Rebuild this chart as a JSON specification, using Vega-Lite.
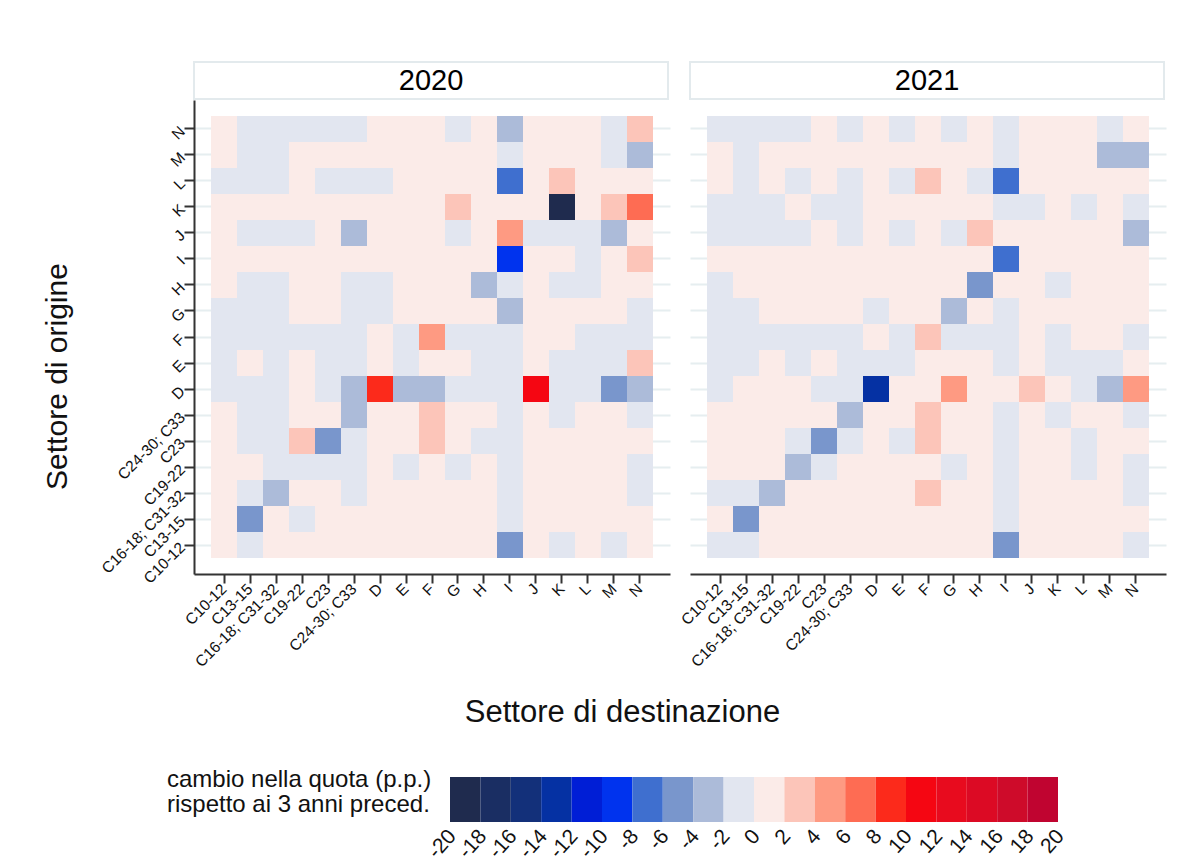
{
"$schema": "https://vega.github.io/schema/vega-lite/v6.json",
"background": "white",
"padding": {"left": 42, "top": 61, "right": 5, "bottom": 0},
"autosize": {"type": "pad"},
"datasets": {"cells": [
{"anno":"2020","orig":"N","dest":"C10-12","v":0.8},{"anno":"2020","orig":"N","dest":"C13-15","v":-0.8},{"anno":"2020","orig":"N","dest":"C16-18; C31-32","v":-0.8},{"anno":"2020","orig":"N","dest":"C19-22","v":-0.8},{"anno":"2020","orig":"N","dest":"C23","v":-0.8},{"anno":"2020","orig":"N","dest":"C24-30; C33","v":-0.8},{"anno":"2020","orig":"N","dest":"D","v":0.8},{"anno":"2020","orig":"N","dest":"E","v":0.8},{"anno":"2020","orig":"N","dest":"F","v":0.8},{"anno":"2020","orig":"N","dest":"G","v":-0.8},{"anno":"2020","orig":"N","dest":"H","v":0.8},{"anno":"2020","orig":"N","dest":"I","v":-3},{"anno":"2020","orig":"N","dest":"J","v":0.8},{"anno":"2020","orig":"N","dest":"K","v":0.8},{"anno":"2020","orig":"N","dest":"L","v":0.8},{"anno":"2020","orig":"N","dest":"M","v":-0.8},{"anno":"2020","orig":"N","dest":"N","v":3},
{"anno":"2020","orig":"M","dest":"C10-12","v":0.8},{"anno":"2020","orig":"M","dest":"C13-15","v":-0.8},{"anno":"2020","orig":"M","dest":"C16-18; C31-32","v":-0.8},{"anno":"2020","orig":"M","dest":"C19-22","v":0.8},{"anno":"2020","orig":"M","dest":"C23","v":0.8},{"anno":"2020","orig":"M","dest":"C24-30; C33","v":0.8},{"anno":"2020","orig":"M","dest":"D","v":0.8},{"anno":"2020","orig":"M","dest":"E","v":0.8},{"anno":"2020","orig":"M","dest":"F","v":0.8},{"anno":"2020","orig":"M","dest":"G","v":0.8},{"anno":"2020","orig":"M","dest":"H","v":0.8},{"anno":"2020","orig":"M","dest":"I","v":-0.8},{"anno":"2020","orig":"M","dest":"J","v":0.8},{"anno":"2020","orig":"M","dest":"K","v":0.8},{"anno":"2020","orig":"M","dest":"L","v":0.8},{"anno":"2020","orig":"M","dest":"M","v":-0.8},{"anno":"2020","orig":"M","dest":"N","v":-3},
{"anno":"2020","orig":"L","dest":"C10-12","v":-0.8},{"anno":"2020","orig":"L","dest":"C13-15","v":-0.8},{"anno":"2020","orig":"L","dest":"C16-18; C31-32","v":-0.8},{"anno":"2020","orig":"L","dest":"C19-22","v":0.8},{"anno":"2020","orig":"L","dest":"C23","v":-0.8},{"anno":"2020","orig":"L","dest":"C24-30; C33","v":-0.8},{"anno":"2020","orig":"L","dest":"D","v":-0.8},{"anno":"2020","orig":"L","dest":"E","v":0.8},{"anno":"2020","orig":"L","dest":"F","v":0.8},{"anno":"2020","orig":"L","dest":"G","v":0.8},{"anno":"2020","orig":"L","dest":"H","v":0.8},{"anno":"2020","orig":"L","dest":"I","v":-7},{"anno":"2020","orig":"L","dest":"J","v":0.8},{"anno":"2020","orig":"L","dest":"K","v":3},{"anno":"2020","orig":"L","dest":"L","v":0.8},{"anno":"2020","orig":"L","dest":"M","v":0.8},{"anno":"2020","orig":"L","dest":"N","v":0.8},
{"anno":"2020","orig":"K","dest":"C10-12","v":0.8},{"anno":"2020","orig":"K","dest":"C13-15","v":0.8},{"anno":"2020","orig":"K","dest":"C16-18; C31-32","v":0.8},{"anno":"2020","orig":"K","dest":"C19-22","v":0.8},{"anno":"2020","orig":"K","dest":"C23","v":0.8},{"anno":"2020","orig":"K","dest":"C24-30; C33","v":0.8},{"anno":"2020","orig":"K","dest":"D","v":0.8},{"anno":"2020","orig":"K","dest":"E","v":0.8},{"anno":"2020","orig":"K","dest":"F","v":0.8},{"anno":"2020","orig":"K","dest":"G","v":3},{"anno":"2020","orig":"K","dest":"H","v":0.8},{"anno":"2020","orig":"K","dest":"I","v":0.8},{"anno":"2020","orig":"K","dest":"J","v":0.8},{"anno":"2020","orig":"K","dest":"K","v":-19},{"anno":"2020","orig":"K","dest":"L","v":0.8},{"anno":"2020","orig":"K","dest":"M","v":3},{"anno":"2020","orig":"K","dest":"N","v":7},
{"anno":"2020","orig":"J","dest":"C10-12","v":0.8},{"anno":"2020","orig":"J","dest":"C13-15","v":-0.8},{"anno":"2020","orig":"J","dest":"C16-18; C31-32","v":-0.8},{"anno":"2020","orig":"J","dest":"C19-22","v":-0.8},{"anno":"2020","orig":"J","dest":"C23","v":0.8},{"anno":"2020","orig":"J","dest":"C24-30; C33","v":-3},{"anno":"2020","orig":"J","dest":"D","v":0.8},{"anno":"2020","orig":"J","dest":"E","v":0.8},{"anno":"2020","orig":"J","dest":"F","v":0.8},{"anno":"2020","orig":"J","dest":"G","v":-0.8},{"anno":"2020","orig":"J","dest":"H","v":0.8},{"anno":"2020","orig":"J","dest":"I","v":5},{"anno":"2020","orig":"J","dest":"J","v":-0.8},{"anno":"2020","orig":"J","dest":"K","v":-0.8},{"anno":"2020","orig":"J","dest":"L","v":-0.8},{"anno":"2020","orig":"J","dest":"M","v":-3},{"anno":"2020","orig":"J","dest":"N","v":0.8},
{"anno":"2020","orig":"I","dest":"C10-12","v":0.8},{"anno":"2020","orig":"I","dest":"C13-15","v":0.8},{"anno":"2020","orig":"I","dest":"C16-18; C31-32","v":0.8},{"anno":"2020","orig":"I","dest":"C19-22","v":0.8},{"anno":"2020","orig":"I","dest":"C23","v":0.8},{"anno":"2020","orig":"I","dest":"C24-30; C33","v":0.8},{"anno":"2020","orig":"I","dest":"D","v":0.8},{"anno":"2020","orig":"I","dest":"E","v":0.8},{"anno":"2020","orig":"I","dest":"F","v":0.8},{"anno":"2020","orig":"I","dest":"G","v":0.8},{"anno":"2020","orig":"I","dest":"H","v":0.8},{"anno":"2020","orig":"I","dest":"I","v":-9},{"anno":"2020","orig":"I","dest":"J","v":0.8},{"anno":"2020","orig":"I","dest":"K","v":0.8},{"anno":"2020","orig":"I","dest":"L","v":-0.8},{"anno":"2020","orig":"I","dest":"M","v":0.8},{"anno":"2020","orig":"I","dest":"N","v":3},
{"anno":"2020","orig":"H","dest":"C10-12","v":0.8},{"anno":"2020","orig":"H","dest":"C13-15","v":-0.8},{"anno":"2020","orig":"H","dest":"C16-18; C31-32","v":-0.8},{"anno":"2020","orig":"H","dest":"C19-22","v":0.8},{"anno":"2020","orig":"H","dest":"C23","v":0.8},{"anno":"2020","orig":"H","dest":"C24-30; C33","v":-0.8},{"anno":"2020","orig":"H","dest":"D","v":-0.8},{"anno":"2020","orig":"H","dest":"E","v":0.8},{"anno":"2020","orig":"H","dest":"F","v":0.8},{"anno":"2020","orig":"H","dest":"G","v":0.8},{"anno":"2020","orig":"H","dest":"H","v":-3},{"anno":"2020","orig":"H","dest":"I","v":-0.8},{"anno":"2020","orig":"H","dest":"J","v":0.8},{"anno":"2020","orig":"H","dest":"K","v":-0.8},{"anno":"2020","orig":"H","dest":"L","v":-0.8},{"anno":"2020","orig":"H","dest":"M","v":0.8},{"anno":"2020","orig":"H","dest":"N","v":0.8},
{"anno":"2020","orig":"G","dest":"C10-12","v":-0.8},{"anno":"2020","orig":"G","dest":"C13-15","v":-0.8},{"anno":"2020","orig":"G","dest":"C16-18; C31-32","v":-0.8},{"anno":"2020","orig":"G","dest":"C19-22","v":0.8},{"anno":"2020","orig":"G","dest":"C23","v":0.8},{"anno":"2020","orig":"G","dest":"C24-30; C33","v":-0.8},{"anno":"2020","orig":"G","dest":"D","v":-0.8},{"anno":"2020","orig":"G","dest":"E","v":0.8},{"anno":"2020","orig":"G","dest":"F","v":0.8},{"anno":"2020","orig":"G","dest":"G","v":0.8},{"anno":"2020","orig":"G","dest":"H","v":0.8},{"anno":"2020","orig":"G","dest":"I","v":-3},{"anno":"2020","orig":"G","dest":"J","v":0.8},{"anno":"2020","orig":"G","dest":"K","v":0.8},{"anno":"2020","orig":"G","dest":"L","v":0.8},{"anno":"2020","orig":"G","dest":"M","v":0.8},{"anno":"2020","orig":"G","dest":"N","v":-0.8},
{"anno":"2020","orig":"F","dest":"C10-12","v":-0.8},{"anno":"2020","orig":"F","dest":"C13-15","v":-0.8},{"anno":"2020","orig":"F","dest":"C16-18; C31-32","v":-0.8},{"anno":"2020","orig":"F","dest":"C19-22","v":-0.8},{"anno":"2020","orig":"F","dest":"C23","v":-0.8},{"anno":"2020","orig":"F","dest":"C24-30; C33","v":-0.8},{"anno":"2020","orig":"F","dest":"D","v":0.8},{"anno":"2020","orig":"F","dest":"E","v":-0.8},{"anno":"2020","orig":"F","dest":"F","v":5},{"anno":"2020","orig":"F","dest":"G","v":-0.8},{"anno":"2020","orig":"F","dest":"H","v":-0.8},{"anno":"2020","orig":"F","dest":"I","v":-0.8},{"anno":"2020","orig":"F","dest":"J","v":0.8},{"anno":"2020","orig":"F","dest":"K","v":0.8},{"anno":"2020","orig":"F","dest":"L","v":-0.8},{"anno":"2020","orig":"F","dest":"M","v":-0.8},{"anno":"2020","orig":"F","dest":"N","v":-0.8},
{"anno":"2020","orig":"E","dest":"C10-12","v":-0.8},{"anno":"2020","orig":"E","dest":"C13-15","v":0.8},{"anno":"2020","orig":"E","dest":"C16-18; C31-32","v":-0.8},{"anno":"2020","orig":"E","dest":"C19-22","v":0.8},{"anno":"2020","orig":"E","dest":"C23","v":-0.8},{"anno":"2020","orig":"E","dest":"C24-30; C33","v":-0.8},{"anno":"2020","orig":"E","dest":"D","v":0.8},{"anno":"2020","orig":"E","dest":"E","v":-0.8},{"anno":"2020","orig":"E","dest":"F","v":0.8},{"anno":"2020","orig":"E","dest":"G","v":0.8},{"anno":"2020","orig":"E","dest":"H","v":-0.8},{"anno":"2020","orig":"E","dest":"I","v":-0.8},{"anno":"2020","orig":"E","dest":"J","v":0.8},{"anno":"2020","orig":"E","dest":"K","v":-0.8},{"anno":"2020","orig":"E","dest":"L","v":-0.8},{"anno":"2020","orig":"E","dest":"M","v":-0.8},{"anno":"2020","orig":"E","dest":"N","v":3},
{"anno":"2020","orig":"D","dest":"C10-12","v":-0.8},{"anno":"2020","orig":"D","dest":"C13-15","v":-0.8},{"anno":"2020","orig":"D","dest":"C16-18; C31-32","v":-0.8},{"anno":"2020","orig":"D","dest":"C19-22","v":0.8},{"anno":"2020","orig":"D","dest":"C23","v":-0.8},{"anno":"2020","orig":"D","dest":"C24-30; C33","v":-3},{"anno":"2020","orig":"D","dest":"D","v":9},{"anno":"2020","orig":"D","dest":"E","v":-3},{"anno":"2020","orig":"D","dest":"F","v":-3},{"anno":"2020","orig":"D","dest":"G","v":-0.8},{"anno":"2020","orig":"D","dest":"H","v":-0.8},{"anno":"2020","orig":"D","dest":"I","v":-0.8},{"anno":"2020","orig":"D","dest":"J","v":11},{"anno":"2020","orig":"D","dest":"K","v":-0.8},{"anno":"2020","orig":"D","dest":"L","v":-0.8},{"anno":"2020","orig":"D","dest":"M","v":-5},{"anno":"2020","orig":"D","dest":"N","v":-3},
{"anno":"2020","orig":"C24-30; C33","dest":"C10-12","v":0.8},{"anno":"2020","orig":"C24-30; C33","dest":"C13-15","v":-0.8},{"anno":"2020","orig":"C24-30; C33","dest":"C16-18; C31-32","v":-0.8},{"anno":"2020","orig":"C24-30; C33","dest":"C19-22","v":0.8},{"anno":"2020","orig":"C24-30; C33","dest":"C23","v":0.8},{"anno":"2020","orig":"C24-30; C33","dest":"C24-30; C33","v":-3},{"anno":"2020","orig":"C24-30; C33","dest":"D","v":0.8},{"anno":"2020","orig":"C24-30; C33","dest":"E","v":0.8},{"anno":"2020","orig":"C24-30; C33","dest":"F","v":3},{"anno":"2020","orig":"C24-30; C33","dest":"G","v":0.8},{"anno":"2020","orig":"C24-30; C33","dest":"H","v":0.8},{"anno":"2020","orig":"C24-30; C33","dest":"I","v":-0.8},{"anno":"2020","orig":"C24-30; C33","dest":"J","v":0.8},{"anno":"2020","orig":"C24-30; C33","dest":"K","v":-0.8},{"anno":"2020","orig":"C24-30; C33","dest":"L","v":0.8},{"anno":"2020","orig":"C24-30; C33","dest":"M","v":0.8},{"anno":"2020","orig":"C24-30; C33","dest":"N","v":-0.8},
{"anno":"2020","orig":"C23","dest":"C10-12","v":0.8},{"anno":"2020","orig":"C23","dest":"C13-15","v":-0.8},{"anno":"2020","orig":"C23","dest":"C16-18; C31-32","v":-0.8},{"anno":"2020","orig":"C23","dest":"C19-22","v":3},{"anno":"2020","orig":"C23","dest":"C23","v":-5},{"anno":"2020","orig":"C23","dest":"C24-30; C33","v":-0.8},{"anno":"2020","orig":"C23","dest":"D","v":0.8},{"anno":"2020","orig":"C23","dest":"E","v":0.8},{"anno":"2020","orig":"C23","dest":"F","v":3},{"anno":"2020","orig":"C23","dest":"G","v":0.8},{"anno":"2020","orig":"C23","dest":"H","v":-0.8},{"anno":"2020","orig":"C23","dest":"I","v":-0.8},{"anno":"2020","orig":"C23","dest":"J","v":0.8},{"anno":"2020","orig":"C23","dest":"K","v":0.8},{"anno":"2020","orig":"C23","dest":"L","v":0.8},{"anno":"2020","orig":"C23","dest":"M","v":0.8},{"anno":"2020","orig":"C23","dest":"N","v":0.8},
{"anno":"2020","orig":"C19-22","dest":"C10-12","v":0.8},{"anno":"2020","orig":"C19-22","dest":"C13-15","v":0.8},{"anno":"2020","orig":"C19-22","dest":"C16-18; C31-32","v":-0.8},{"anno":"2020","orig":"C19-22","dest":"C19-22","v":-0.8},{"anno":"2020","orig":"C19-22","dest":"C23","v":-0.8},{"anno":"2020","orig":"C19-22","dest":"C24-30; C33","v":-0.8},{"anno":"2020","orig":"C19-22","dest":"D","v":0.8},{"anno":"2020","orig":"C19-22","dest":"E","v":-0.8},{"anno":"2020","orig":"C19-22","dest":"F","v":0.8},{"anno":"2020","orig":"C19-22","dest":"G","v":-0.8},{"anno":"2020","orig":"C19-22","dest":"H","v":0.8},{"anno":"2020","orig":"C19-22","dest":"I","v":-0.8},{"anno":"2020","orig":"C19-22","dest":"J","v":0.8},{"anno":"2020","orig":"C19-22","dest":"K","v":0.8},{"anno":"2020","orig":"C19-22","dest":"L","v":0.8},{"anno":"2020","orig":"C19-22","dest":"M","v":0.8},{"anno":"2020","orig":"C19-22","dest":"N","v":-0.8},
{"anno":"2020","orig":"C16-18; C31-32","dest":"C10-12","v":0.8},{"anno":"2020","orig":"C16-18; C31-32","dest":"C13-15","v":-0.8},{"anno":"2020","orig":"C16-18; C31-32","dest":"C16-18; C31-32","v":-3},{"anno":"2020","orig":"C16-18; C31-32","dest":"C19-22","v":0.8},{"anno":"2020","orig":"C16-18; C31-32","dest":"C23","v":0.8},{"anno":"2020","orig":"C16-18; C31-32","dest":"C24-30; C33","v":-0.8},{"anno":"2020","orig":"C16-18; C31-32","dest":"D","v":0.8},{"anno":"2020","orig":"C16-18; C31-32","dest":"E","v":0.8},{"anno":"2020","orig":"C16-18; C31-32","dest":"F","v":0.8},{"anno":"2020","orig":"C16-18; C31-32","dest":"G","v":0.8},{"anno":"2020","orig":"C16-18; C31-32","dest":"H","v":0.8},{"anno":"2020","orig":"C16-18; C31-32","dest":"I","v":-0.8},{"anno":"2020","orig":"C16-18; C31-32","dest":"J","v":0.8},{"anno":"2020","orig":"C16-18; C31-32","dest":"K","v":0.8},{"anno":"2020","orig":"C16-18; C31-32","dest":"L","v":0.8},{"anno":"2020","orig":"C16-18; C31-32","dest":"M","v":0.8},{"anno":"2020","orig":"C16-18; C31-32","dest":"N","v":-0.8},
{"anno":"2020","orig":"C13-15","dest":"C10-12","v":0.8},{"anno":"2020","orig":"C13-15","dest":"C13-15","v":-5},{"anno":"2020","orig":"C13-15","dest":"C16-18; C31-32","v":0.8},{"anno":"2020","orig":"C13-15","dest":"C19-22","v":-0.8},{"anno":"2020","orig":"C13-15","dest":"C23","v":0.8},{"anno":"2020","orig":"C13-15","dest":"C24-30; C33","v":0.8},{"anno":"2020","orig":"C13-15","dest":"D","v":0.8},{"anno":"2020","orig":"C13-15","dest":"E","v":0.8},{"anno":"2020","orig":"C13-15","dest":"F","v":0.8},{"anno":"2020","orig":"C13-15","dest":"G","v":0.8},{"anno":"2020","orig":"C13-15","dest":"H","v":0.8},{"anno":"2020","orig":"C13-15","dest":"I","v":-0.8},{"anno":"2020","orig":"C13-15","dest":"J","v":0.8},{"anno":"2020","orig":"C13-15","dest":"K","v":0.8},{"anno":"2020","orig":"C13-15","dest":"L","v":0.8},{"anno":"2020","orig":"C13-15","dest":"M","v":0.8},{"anno":"2020","orig":"C13-15","dest":"N","v":0.8},
{"anno":"2020","orig":"C10-12","dest":"C10-12","v":0.8},{"anno":"2020","orig":"C10-12","dest":"C13-15","v":-0.8},{"anno":"2020","orig":"C10-12","dest":"C16-18; C31-32","v":0.8},{"anno":"2020","orig":"C10-12","dest":"C19-22","v":0.8},{"anno":"2020","orig":"C10-12","dest":"C23","v":0.8},{"anno":"2020","orig":"C10-12","dest":"C24-30; C33","v":0.8},{"anno":"2020","orig":"C10-12","dest":"D","v":0.8},{"anno":"2020","orig":"C10-12","dest":"E","v":0.8},{"anno":"2020","orig":"C10-12","dest":"F","v":0.8},{"anno":"2020","orig":"C10-12","dest":"G","v":0.8},{"anno":"2020","orig":"C10-12","dest":"H","v":0.8},{"anno":"2020","orig":"C10-12","dest":"I","v":-5},{"anno":"2020","orig":"C10-12","dest":"J","v":0.8},{"anno":"2020","orig":"C10-12","dest":"K","v":-0.8},{"anno":"2020","orig":"C10-12","dest":"L","v":0.8},{"anno":"2020","orig":"C10-12","dest":"M","v":-0.8},{"anno":"2020","orig":"C10-12","dest":"N","v":0.8},
{"anno":"2021","orig":"N","dest":"C10-12","v":-0.8},{"anno":"2021","orig":"N","dest":"C13-15","v":-0.8},{"anno":"2021","orig":"N","dest":"C16-18; C31-32","v":-0.8},{"anno":"2021","orig":"N","dest":"C19-22","v":-0.8},{"anno":"2021","orig":"N","dest":"C23","v":0.8},{"anno":"2021","orig":"N","dest":"C24-30; C33","v":-0.8},{"anno":"2021","orig":"N","dest":"D","v":0.8},{"anno":"2021","orig":"N","dest":"E","v":-0.8},{"anno":"2021","orig":"N","dest":"F","v":0.8},{"anno":"2021","orig":"N","dest":"G","v":-0.8},{"anno":"2021","orig":"N","dest":"H","v":0.8},{"anno":"2021","orig":"N","dest":"I","v":-0.8},{"anno":"2021","orig":"N","dest":"J","v":0.8},{"anno":"2021","orig":"N","dest":"K","v":0.8},{"anno":"2021","orig":"N","dest":"L","v":0.8},{"anno":"2021","orig":"N","dest":"M","v":-0.8},{"anno":"2021","orig":"N","dest":"N","v":0.8},
{"anno":"2021","orig":"M","dest":"C10-12","v":0.8},{"anno":"2021","orig":"M","dest":"C13-15","v":-0.8},{"anno":"2021","orig":"M","dest":"C16-18; C31-32","v":0.8},{"anno":"2021","orig":"M","dest":"C19-22","v":0.8},{"anno":"2021","orig":"M","dest":"C23","v":0.8},{"anno":"2021","orig":"M","dest":"C24-30; C33","v":0.8},{"anno":"2021","orig":"M","dest":"D","v":0.8},{"anno":"2021","orig":"M","dest":"E","v":0.8},{"anno":"2021","orig":"M","dest":"F","v":0.8},{"anno":"2021","orig":"M","dest":"G","v":0.8},{"anno":"2021","orig":"M","dest":"H","v":0.8},{"anno":"2021","orig":"M","dest":"I","v":-0.8},{"anno":"2021","orig":"M","dest":"J","v":0.8},{"anno":"2021","orig":"M","dest":"K","v":0.8},{"anno":"2021","orig":"M","dest":"L","v":0.8},{"anno":"2021","orig":"M","dest":"M","v":-3},{"anno":"2021","orig":"M","dest":"N","v":-3},
{"anno":"2021","orig":"L","dest":"C10-12","v":0.8},{"anno":"2021","orig":"L","dest":"C13-15","v":-0.8},{"anno":"2021","orig":"L","dest":"C16-18; C31-32","v":0.8},{"anno":"2021","orig":"L","dest":"C19-22","v":-0.8},{"anno":"2021","orig":"L","dest":"C23","v":0.8},{"anno":"2021","orig":"L","dest":"C24-30; C33","v":-0.8},{"anno":"2021","orig":"L","dest":"D","v":0.8},{"anno":"2021","orig":"L","dest":"E","v":-0.8},{"anno":"2021","orig":"L","dest":"F","v":3},{"anno":"2021","orig":"L","dest":"G","v":0.8},{"anno":"2021","orig":"L","dest":"H","v":-0.8},{"anno":"2021","orig":"L","dest":"I","v":-7},{"anno":"2021","orig":"L","dest":"J","v":0.8},{"anno":"2021","orig":"L","dest":"K","v":0.8},{"anno":"2021","orig":"L","dest":"L","v":0.8},{"anno":"2021","orig":"L","dest":"M","v":0.8},{"anno":"2021","orig":"L","dest":"N","v":0.8},
{"anno":"2021","orig":"K","dest":"C10-12","v":-0.8},{"anno":"2021","orig":"K","dest":"C13-15","v":-0.8},{"anno":"2021","orig":"K","dest":"C16-18; C31-32","v":-0.8},{"anno":"2021","orig":"K","dest":"C19-22","v":0.8},{"anno":"2021","orig":"K","dest":"C23","v":-0.8},{"anno":"2021","orig":"K","dest":"C24-30; C33","v":-0.8},{"anno":"2021","orig":"K","dest":"D","v":0.8},{"anno":"2021","orig":"K","dest":"E","v":0.8},{"anno":"2021","orig":"K","dest":"F","v":0.8},{"anno":"2021","orig":"K","dest":"G","v":0.8},{"anno":"2021","orig":"K","dest":"H","v":0.8},{"anno":"2021","orig":"K","dest":"I","v":-0.8},{"anno":"2021","orig":"K","dest":"J","v":-0.8},{"anno":"2021","orig":"K","dest":"K","v":0.8},{"anno":"2021","orig":"K","dest":"L","v":-0.8},{"anno":"2021","orig":"K","dest":"M","v":0.8},{"anno":"2021","orig":"K","dest":"N","v":-0.8},
{"anno":"2021","orig":"J","dest":"C10-12","v":-0.8},{"anno":"2021","orig":"J","dest":"C13-15","v":-0.8},{"anno":"2021","orig":"J","dest":"C16-18; C31-32","v":-0.8},{"anno":"2021","orig":"J","dest":"C19-22","v":-0.8},{"anno":"2021","orig":"J","dest":"C23","v":0.8},{"anno":"2021","orig":"J","dest":"C24-30; C33","v":-0.8},{"anno":"2021","orig":"J","dest":"D","v":0.8},{"anno":"2021","orig":"J","dest":"E","v":-0.8},{"anno":"2021","orig":"J","dest":"F","v":0.8},{"anno":"2021","orig":"J","dest":"G","v":-0.8},{"anno":"2021","orig":"J","dest":"H","v":3},{"anno":"2021","orig":"J","dest":"I","v":0.8},{"anno":"2021","orig":"J","dest":"J","v":0.8},{"anno":"2021","orig":"J","dest":"K","v":0.8},{"anno":"2021","orig":"J","dest":"L","v":0.8},{"anno":"2021","orig":"J","dest":"M","v":0.8},{"anno":"2021","orig":"J","dest":"N","v":-3},
{"anno":"2021","orig":"I","dest":"C10-12","v":0.8},{"anno":"2021","orig":"I","dest":"C13-15","v":0.8},{"anno":"2021","orig":"I","dest":"C16-18; C31-32","v":0.8},{"anno":"2021","orig":"I","dest":"C19-22","v":0.8},{"anno":"2021","orig":"I","dest":"C23","v":0.8},{"anno":"2021","orig":"I","dest":"C24-30; C33","v":0.8},{"anno":"2021","orig":"I","dest":"D","v":0.8},{"anno":"2021","orig":"I","dest":"E","v":0.8},{"anno":"2021","orig":"I","dest":"F","v":0.8},{"anno":"2021","orig":"I","dest":"G","v":0.8},{"anno":"2021","orig":"I","dest":"H","v":0.8},{"anno":"2021","orig":"I","dest":"I","v":-7},{"anno":"2021","orig":"I","dest":"J","v":0.8},{"anno":"2021","orig":"I","dest":"K","v":0.8},{"anno":"2021","orig":"I","dest":"L","v":0.8},{"anno":"2021","orig":"I","dest":"M","v":0.8},{"anno":"2021","orig":"I","dest":"N","v":0.8},
{"anno":"2021","orig":"H","dest":"C10-12","v":-0.8},{"anno":"2021","orig":"H","dest":"C13-15","v":0.8},{"anno":"2021","orig":"H","dest":"C16-18; C31-32","v":0.8},{"anno":"2021","orig":"H","dest":"C19-22","v":0.8},{"anno":"2021","orig":"H","dest":"C23","v":0.8},{"anno":"2021","orig":"H","dest":"C24-30; C33","v":0.8},{"anno":"2021","orig":"H","dest":"D","v":0.8},{"anno":"2021","orig":"H","dest":"E","v":0.8},{"anno":"2021","orig":"H","dest":"F","v":0.8},{"anno":"2021","orig":"H","dest":"G","v":0.8},{"anno":"2021","orig":"H","dest":"H","v":-5},{"anno":"2021","orig":"H","dest":"I","v":0.8},{"anno":"2021","orig":"H","dest":"J","v":0.8},{"anno":"2021","orig":"H","dest":"K","v":-0.8},{"anno":"2021","orig":"H","dest":"L","v":0.8},{"anno":"2021","orig":"H","dest":"M","v":0.8},{"anno":"2021","orig":"H","dest":"N","v":0.8},
{"anno":"2021","orig":"G","dest":"C10-12","v":-0.8},{"anno":"2021","orig":"G","dest":"C13-15","v":-0.8},{"anno":"2021","orig":"G","dest":"C16-18; C31-32","v":0.8},{"anno":"2021","orig":"G","dest":"C19-22","v":0.8},{"anno":"2021","orig":"G","dest":"C23","v":0.8},{"anno":"2021","orig":"G","dest":"C24-30; C33","v":0.8},{"anno":"2021","orig":"G","dest":"D","v":-0.8},{"anno":"2021","orig":"G","dest":"E","v":0.8},{"anno":"2021","orig":"G","dest":"F","v":0.8},{"anno":"2021","orig":"G","dest":"G","v":-3},{"anno":"2021","orig":"G","dest":"H","v":0.8},{"anno":"2021","orig":"G","dest":"I","v":-0.8},{"anno":"2021","orig":"G","dest":"J","v":0.8},{"anno":"2021","orig":"G","dest":"K","v":0.8},{"anno":"2021","orig":"G","dest":"L","v":0.8},{"anno":"2021","orig":"G","dest":"M","v":0.8},{"anno":"2021","orig":"G","dest":"N","v":0.8},
{"anno":"2021","orig":"F","dest":"C10-12","v":-0.8},{"anno":"2021","orig":"F","dest":"C13-15","v":-0.8},{"anno":"2021","orig":"F","dest":"C16-18; C31-32","v":-0.8},{"anno":"2021","orig":"F","dest":"C19-22","v":-0.8},{"anno":"2021","orig":"F","dest":"C23","v":-0.8},{"anno":"2021","orig":"F","dest":"C24-30; C33","v":-0.8},{"anno":"2021","orig":"F","dest":"D","v":0.8},{"anno":"2021","orig":"F","dest":"E","v":-0.8},{"anno":"2021","orig":"F","dest":"F","v":3},{"anno":"2021","orig":"F","dest":"G","v":-0.8},{"anno":"2021","orig":"F","dest":"H","v":-0.8},{"anno":"2021","orig":"F","dest":"I","v":-0.8},{"anno":"2021","orig":"F","dest":"J","v":0.8},{"anno":"2021","orig":"F","dest":"K","v":-0.8},{"anno":"2021","orig":"F","dest":"L","v":0.8},{"anno":"2021","orig":"F","dest":"M","v":0.8},{"anno":"2021","orig":"F","dest":"N","v":-0.8},
{"anno":"2021","orig":"E","dest":"C10-12","v":-0.8},{"anno":"2021","orig":"E","dest":"C13-15","v":-0.8},{"anno":"2021","orig":"E","dest":"C16-18; C31-32","v":0.8},{"anno":"2021","orig":"E","dest":"C19-22","v":-0.8},{"anno":"2021","orig":"E","dest":"C23","v":0.8},{"anno":"2021","orig":"E","dest":"C24-30; C33","v":-0.8},{"anno":"2021","orig":"E","dest":"D","v":-0.8},{"anno":"2021","orig":"E","dest":"E","v":-0.8},{"anno":"2021","orig":"E","dest":"F","v":0.8},{"anno":"2021","orig":"E","dest":"G","v":0.8},{"anno":"2021","orig":"E","dest":"H","v":0.8},{"anno":"2021","orig":"E","dest":"I","v":-0.8},{"anno":"2021","orig":"E","dest":"J","v":0.8},{"anno":"2021","orig":"E","dest":"K","v":-0.8},{"anno":"2021","orig":"E","dest":"L","v":-0.8},{"anno":"2021","orig":"E","dest":"M","v":-0.8},{"anno":"2021","orig":"E","dest":"N","v":0.8},
{"anno":"2021","orig":"D","dest":"C10-12","v":-0.8},{"anno":"2021","orig":"D","dest":"C13-15","v":0.8},{"anno":"2021","orig":"D","dest":"C16-18; C31-32","v":0.8},{"anno":"2021","orig":"D","dest":"C19-22","v":0.8},{"anno":"2021","orig":"D","dest":"C23","v":-0.8},{"anno":"2021","orig":"D","dest":"C24-30; C33","v":-0.8},{"anno":"2021","orig":"D","dest":"D","v":-13},{"anno":"2021","orig":"D","dest":"E","v":0.8},{"anno":"2021","orig":"D","dest":"F","v":0.8},{"anno":"2021","orig":"D","dest":"G","v":5},{"anno":"2021","orig":"D","dest":"H","v":0.8},{"anno":"2021","orig":"D","dest":"I","v":0.8},{"anno":"2021","orig":"D","dest":"J","v":3},{"anno":"2021","orig":"D","dest":"K","v":0.8},{"anno":"2021","orig":"D","dest":"L","v":-0.8},{"anno":"2021","orig":"D","dest":"M","v":-3},{"anno":"2021","orig":"D","dest":"N","v":5},
{"anno":"2021","orig":"C24-30; C33","dest":"C10-12","v":0.8},{"anno":"2021","orig":"C24-30; C33","dest":"C13-15","v":0.8},{"anno":"2021","orig":"C24-30; C33","dest":"C16-18; C31-32","v":0.8},{"anno":"2021","orig":"C24-30; C33","dest":"C19-22","v":0.8},{"anno":"2021","orig":"C24-30; C33","dest":"C23","v":0.8},{"anno":"2021","orig":"C24-30; C33","dest":"C24-30; C33","v":-3},{"anno":"2021","orig":"C24-30; C33","dest":"D","v":0.8},{"anno":"2021","orig":"C24-30; C33","dest":"E","v":0.8},{"anno":"2021","orig":"C24-30; C33","dest":"F","v":3},{"anno":"2021","orig":"C24-30; C33","dest":"G","v":0.8},{"anno":"2021","orig":"C24-30; C33","dest":"H","v":0.8},{"anno":"2021","orig":"C24-30; C33","dest":"I","v":-0.8},{"anno":"2021","orig":"C24-30; C33","dest":"J","v":0.8},{"anno":"2021","orig":"C24-30; C33","dest":"K","v":-0.8},{"anno":"2021","orig":"C24-30; C33","dest":"L","v":0.8},{"anno":"2021","orig":"C24-30; C33","dest":"M","v":0.8},{"anno":"2021","orig":"C24-30; C33","dest":"N","v":-0.8},
{"anno":"2021","orig":"C23","dest":"C10-12","v":0.8},{"anno":"2021","orig":"C23","dest":"C13-15","v":0.8},{"anno":"2021","orig":"C23","dest":"C16-18; C31-32","v":0.8},{"anno":"2021","orig":"C23","dest":"C19-22","v":-0.8},{"anno":"2021","orig":"C23","dest":"C23","v":-5},{"anno":"2021","orig":"C23","dest":"C24-30; C33","v":-0.8},{"anno":"2021","orig":"C23","dest":"D","v":0.8},{"anno":"2021","orig":"C23","dest":"E","v":-0.8},{"anno":"2021","orig":"C23","dest":"F","v":3},{"anno":"2021","orig":"C23","dest":"G","v":0.8},{"anno":"2021","orig":"C23","dest":"H","v":0.8},{"anno":"2021","orig":"C23","dest":"I","v":-0.8},{"anno":"2021","orig":"C23","dest":"J","v":0.8},{"anno":"2021","orig":"C23","dest":"K","v":0.8},{"anno":"2021","orig":"C23","dest":"L","v":-0.8},{"anno":"2021","orig":"C23","dest":"M","v":0.8},{"anno":"2021","orig":"C23","dest":"N","v":0.8},
{"anno":"2021","orig":"C19-22","dest":"C10-12","v":0.8},{"anno":"2021","orig":"C19-22","dest":"C13-15","v":0.8},{"anno":"2021","orig":"C19-22","dest":"C16-18; C31-32","v":0.8},{"anno":"2021","orig":"C19-22","dest":"C19-22","v":-3},{"anno":"2021","orig":"C19-22","dest":"C23","v":-0.8},{"anno":"2021","orig":"C19-22","dest":"C24-30; C33","v":0.8},{"anno":"2021","orig":"C19-22","dest":"D","v":0.8},{"anno":"2021","orig":"C19-22","dest":"E","v":0.8},{"anno":"2021","orig":"C19-22","dest":"F","v":0.8},{"anno":"2021","orig":"C19-22","dest":"G","v":-0.8},{"anno":"2021","orig":"C19-22","dest":"H","v":0.8},{"anno":"2021","orig":"C19-22","dest":"I","v":-0.8},{"anno":"2021","orig":"C19-22","dest":"J","v":0.8},{"anno":"2021","orig":"C19-22","dest":"K","v":0.8},{"anno":"2021","orig":"C19-22","dest":"L","v":-0.8},{"anno":"2021","orig":"C19-22","dest":"M","v":0.8},{"anno":"2021","orig":"C19-22","dest":"N","v":-0.8},
{"anno":"2021","orig":"C16-18; C31-32","dest":"C10-12","v":-0.8},{"anno":"2021","orig":"C16-18; C31-32","dest":"C13-15","v":-0.8},{"anno":"2021","orig":"C16-18; C31-32","dest":"C16-18; C31-32","v":-3},{"anno":"2021","orig":"C16-18; C31-32","dest":"C19-22","v":0.8},{"anno":"2021","orig":"C16-18; C31-32","dest":"C23","v":0.8},{"anno":"2021","orig":"C16-18; C31-32","dest":"C24-30; C33","v":0.8},{"anno":"2021","orig":"C16-18; C31-32","dest":"D","v":0.8},{"anno":"2021","orig":"C16-18; C31-32","dest":"E","v":0.8},{"anno":"2021","orig":"C16-18; C31-32","dest":"F","v":3},{"anno":"2021","orig":"C16-18; C31-32","dest":"G","v":0.8},{"anno":"2021","orig":"C16-18; C31-32","dest":"H","v":0.8},{"anno":"2021","orig":"C16-18; C31-32","dest":"I","v":-0.8},{"anno":"2021","orig":"C16-18; C31-32","dest":"J","v":0.8},{"anno":"2021","orig":"C16-18; C31-32","dest":"K","v":0.8},{"anno":"2021","orig":"C16-18; C31-32","dest":"L","v":0.8},{"anno":"2021","orig":"C16-18; C31-32","dest":"M","v":0.8},{"anno":"2021","orig":"C16-18; C31-32","dest":"N","v":-0.8},
{"anno":"2021","orig":"C13-15","dest":"C10-12","v":0.8},{"anno":"2021","orig":"C13-15","dest":"C13-15","v":-5},{"anno":"2021","orig":"C13-15","dest":"C16-18; C31-32","v":0.8},{"anno":"2021","orig":"C13-15","dest":"C19-22","v":0.8},{"anno":"2021","orig":"C13-15","dest":"C23","v":0.8},{"anno":"2021","orig":"C13-15","dest":"C24-30; C33","v":0.8},{"anno":"2021","orig":"C13-15","dest":"D","v":0.8},{"anno":"2021","orig":"C13-15","dest":"E","v":0.8},{"anno":"2021","orig":"C13-15","dest":"F","v":0.8},{"anno":"2021","orig":"C13-15","dest":"G","v":0.8},{"anno":"2021","orig":"C13-15","dest":"H","v":0.8},{"anno":"2021","orig":"C13-15","dest":"I","v":-0.8},{"anno":"2021","orig":"C13-15","dest":"J","v":0.8},{"anno":"2021","orig":"C13-15","dest":"K","v":0.8},{"anno":"2021","orig":"C13-15","dest":"L","v":0.8},{"anno":"2021","orig":"C13-15","dest":"M","v":0.8},{"anno":"2021","orig":"C13-15","dest":"N","v":0.8},
{"anno":"2021","orig":"C10-12","dest":"C10-12","v":-0.8},{"anno":"2021","orig":"C10-12","dest":"C13-15","v":-0.8},{"anno":"2021","orig":"C10-12","dest":"C16-18; C31-32","v":0.8},{"anno":"2021","orig":"C10-12","dest":"C19-22","v":0.8},{"anno":"2021","orig":"C10-12","dest":"C23","v":0.8},{"anno":"2021","orig":"C10-12","dest":"C24-30; C33","v":0.8},{"anno":"2021","orig":"C10-12","dest":"D","v":0.8},{"anno":"2021","orig":"C10-12","dest":"E","v":0.8},{"anno":"2021","orig":"C10-12","dest":"F","v":0.8},{"anno":"2021","orig":"C10-12","dest":"G","v":0.8},{"anno":"2021","orig":"C10-12","dest":"H","v":0.8},{"anno":"2021","orig":"C10-12","dest":"I","v":-5},{"anno":"2021","orig":"C10-12","dest":"J","v":0.8},{"anno":"2021","orig":"C10-12","dest":"K","v":0.8},{"anno":"2021","orig":"C10-12","dest":"L","v":0.8},{"anno":"2021","orig":"C10-12","dest":"M","v":0.8},{"anno":"2021","orig":"C10-12","dest":"N","v":-0.8}
]},
"data": {"name": "cells"},
"columns": 2,
"spacing": {"row": 1, "column": 20},
"bounds": "flush",
"concat": [
 {"data": {"values": [{"anno": "2020"}]}, "width": 474, "height": 37,
  "view": {"stroke": "#e3eaed", "strokeWidth": 2, "fill": "white"},
  "mark": {"type": "text", "fontSize": 29, "color": "#000", "align": "center", "baseline": "middle"},
  "encoding": {"text": {"field": "anno", "type": "nominal"}}},
 {"data": {"values": [{"anno": "2021"}]}, "width": 474, "height": 37,
  "view": {"stroke": "#e3eaed", "strokeWidth": 2, "fill": "white"},
  "mark": {"type": "text", "fontSize": 29, "color": "#000", "align": "center", "baseline": "middle"},
  "encoding": {"text": {"field": "anno", "type": "nominal"}}},
 {"width": 476, "height": 474,
  "transform": [{"filter": "datum.anno == '2020'"}],
  "mark": {"type": "rect"},
  "encoding": {
   "x": {"field": "dest", "type": "nominal",
    "scale": {"domain": ["C10-12","C13-15","C16-18; C31-32","C19-22","C23","C24-30; C33","D","E","F","G","H","I","J","K","L","M","N"], "paddingInner": 0, "paddingOuter": 0.654},
    "axis": {"title": null, "labelAngle": -45, "labelAlign": "right", "labelBaseline": "middle", "labelFontSize": 15.5, "labelPadding": 3, "labelOverlap": false, "tickSize": 9, "tickWidth": 2, "tickColor": "#333", "domainColor": "#333", "domainWidth": 2, "grid": false}},
   "y": {"field": "orig", "type": "nominal",
    "scale": {"domain": ["N","M","L","K","J","I","H","G","F","E","D","C24-30; C33","C23","C19-22","C16-18; C31-32","C13-15","C10-12"], "paddingInner": 0, "paddingOuter": 0.615},
    "axis": {"zindex": 0, "title": "Settore di origine", "titleFontSize": 30, "titleX": -137, "titleY": 276, "titleAngle": -90, "titleAlign": "center", "titleBaseline": "middle", "labelAngle": -45, "labelAlign": "right", "labelBaseline": "middle", "labelFontSize": 15.5, "labelPadding": 2, "labelOverlap": false, "tickSize": 10, "tickWidth": 2, "tickColor": "#333", "domainColor": "#333", "domainWidth": 2, "grid": true, "gridColor": "#e6eef0", "gridWidth": 2, "bandPosition": 0.5}},
   "color": {"field": "v", "type": "quantitative",
    "scale": {"type": "quantize", "domain": [-20, 20], "nice": false, "zero": false, "range": ["#1f2b4e","#1a2e63","#13307a","#0531a3","#001ed6","#0033ee","#3f6fcf","#7996cc","#acbbd9","#e2e6f0","#fbebe8","#fcc5b9","#fe9a82","#fe6c53","#fc2a1b","#f50612","#e80b1e","#dc0a24","#ce0b2a","#c00430"]},
    "legend": {"type": "gradient", "orient": "none", "legendX": -27, "legendY": 715, "direction": "horizontal", "gradientLength": 608, "gradientThickness": 45, "gradientStrokeWidth": 0, "values": [-20,-18,-16,-14,-12,-10,-8,-6,-4,-2,0,2,4,6,8,10,12,14,16,18,20], "labelExpr": "datum.value < 0 ? '-' + abs(datum.value) : '' + datum.value", "title": ["cambio nella quota (p.p.)", "rispetto ai 3 anni preced."], "titleOrient": "left", "titleFontSize": 24, "titleFontWeight": "normal", "titleLineHeight": 25, "titleLimit": 400, "titlePadding": 18, "titleAnchor": "middle", "titleBaseline": "alphabetic", "titleAlign": "left", "titleColor": "#111", "labelFontSize": 21, "labelOffset": 14, "labelOverlap": false, "labelColor": "#111", "labelLimit": 100, "encoding": {"labels": {"angle": {"value": -48}, "align": {"value": "right"}, "baseline": {"value": "middle"}, "dx": {"value": 4}}}}}
  }},
 {"width": 476, "height": 474,
  "transform": [{"filter": "datum.anno == '2021'"}],
  "mark": {"type": "rect"},
  "encoding": {
   "x": {"field": "dest", "type": "nominal",
    "scale": {"domain": ["C10-12","C13-15","C16-18; C31-32","C19-22","C23","C24-30; C33","D","E","F","G","H","I","J","K","L","M","N"], "paddingInner": 0, "paddingOuter": 0.654},
    "axis": {"title": "Settore di destinazione", "titleFontSize": 31, "titleX": -68, "titleY": 138, "titleAlign": "center", "titleBaseline": "middle", "labelAngle": -45, "labelAlign": "right", "labelBaseline": "middle", "labelFontSize": 15.5, "labelPadding": 3, "labelOverlap": false, "tickSize": 9, "tickWidth": 2, "tickColor": "#333", "domainColor": "#333", "domainWidth": 2, "grid": false}},
   "y": {"field": "orig", "type": "nominal",
    "scale": {"domain": ["N","M","L","K","J","I","H","G","F","E","D","C24-30; C33","C23","C19-22","C16-18; C31-32","C13-15","C10-12"], "paddingInner": 0, "paddingOuter": 0.615},
    "axis": {"zindex": 0, "title": null, "labels": false, "ticks": false, "domain": false, "grid": true, "gridColor": "#e6eef0", "gridWidth": 2, "bandPosition": 0.5}},
   "color": {"field": "v", "type": "quantitative",
    "scale": {"type": "quantize", "domain": [-20, 20], "nice": false, "zero": false, "range": ["#1f2b4e","#1a2e63","#13307a","#0531a3","#001ed6","#0033ee","#3f6fcf","#7996cc","#acbbd9","#e2e6f0","#fbebe8","#fcc5b9","#fe9a82","#fe6c53","#fc2a1b","#f50612","#e80b1e","#dc0a24","#ce0b2a","#c00430"]},
    "legend": {"type": "gradient", "orient": "none", "legendX": -27, "legendY": 715, "direction": "horizontal", "gradientLength": 608, "gradientThickness": 45, "gradientStrokeWidth": 0, "values": [-20,-18,-16,-14,-12,-10,-8,-6,-4,-2,0,2,4,6,8,10,12,14,16,18,20], "labelExpr": "datum.value < 0 ? '-' + abs(datum.value) : '' + datum.value", "title": ["cambio nella quota (p.p.)", "rispetto ai 3 anni preced."], "titleOrient": "left", "titleFontSize": 24, "titleFontWeight": "normal", "titleLineHeight": 25, "titleLimit": 400, "titlePadding": 18, "titleAnchor": "middle", "titleBaseline": "alphabetic", "titleAlign": "left", "titleColor": "#111", "labelFontSize": 21, "labelOffset": 14, "labelOverlap": false, "labelColor": "#111", "labelLimit": 100, "encoding": {"labels": {"angle": {"value": -48}, "align": {"value": "right"}, "baseline": {"value": "middle"}, "dx": {"value": 4}}}}}
  }}
],
"config": {
 "font": "Liberation Sans",
 "view": {"stroke": null},
 "axis": {"labelFont": "Liberation Sans", "titleFont": "Liberation Sans", "titleFontWeight": "normal", "labelColor": "#111", "titleColor": "#111"},
 "legend": {"labelFont": "Liberation Sans", "titleFont": "Liberation Sans"},
 "text": {"font": "Liberation Sans"}
}
}
